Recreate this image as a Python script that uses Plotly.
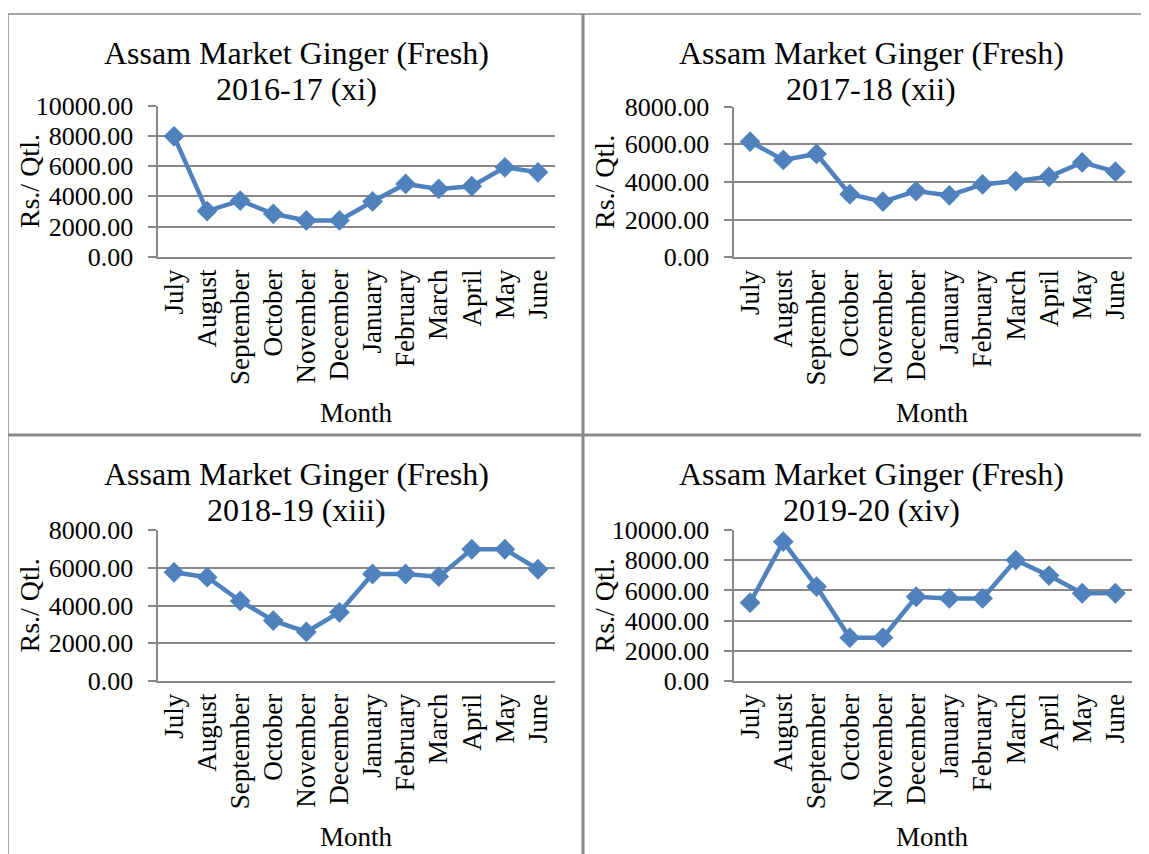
import plotly.graph_objects as go

# months of the agricultural year
months = ['July', 'August', 'September', 'October', 'November', 'December',
          'January', 'February', 'March', 'April', 'May', 'June']

# Rs./Qtl.
price_2016_17 = [7970, 3020, 3720, 2840, 2400, 2400, 3660, 4820, 4490, 4670, 5920, 5590]
price_2017_18 = [6140, 5170, 5490, 3350, 2960, 3520, 3290, 3870, 4050, 4280, 5040, 4550]
price_2018_19 = [5760, 5500, 4240, 3200, 2600, 3640, 5670, 5670, 5530, 6980, 6980, 5920]
price_2019_20 = [5190, 9230, 6250, 2870, 2870, 5580, 5470, 5470, 8010, 6980, 5810, 5810]

subtitles = ['2016-17 (xi)', '2017-18 (xii)', '2018-19 (xiii)', '2019-20 (xiv)']
series = [price_2016_17, price_2017_18, price_2018_19, price_2019_20]
y_max = [10000, 8000, 8000, 10000]

W, H = 1149, 854
OFF = 8  # the page body adds an 8px margin around the figure
FONT = 'Liberation Serif'
GRID = '#888888'
BLUE = '#4F81BD'


def fx(px):
    return (px - OFF) / W


def fy(py):
    return 1 - (py - OFF) / H


# plot boxes in window pixels: (left, right, top, bottom), panel origin (left, top)
boxes = [(157.5, 554.5, 105.7, 256.7), (733.5, 1132, 106.7, 257.3),
         (157.5, 554.5, 530, 681), (733.5, 1132, 530, 681)]
panels = [(8, 14), (583, 14), (8, 435), (583, 435)]

fig = go.Figure()
annotations = []
layout = {}

for i in range(4):
    n = '' if i == 0 else str(i + 1)
    l, r, t, b = boxes[i]
    fig.add_trace(go.Scatter(
        x=months, y=series[i], mode='lines+markers',
        xaxis='x' + n, yaxis='y' + n,
        line=dict(color=BLUE, width=4.5),
        marker=dict(symbol='diamond', size=16, color=BLUE),
        showlegend=False
    ))
    layout['xaxis' + n] = dict(
        domain=[fx(l), fx(r)], anchor='y' + n, automargin=False,
        type='category', range=[-0.5, 11.5],
        tickangle=-90, ticks='', showgrid=False,
        showline=True, linecolor=GRID, linewidth=2,
        tickfont=dict(family=FONT, size=27, color='black'),
        fixedrange=True
    )
    layout['yaxis' + n] = dict(
        domain=[fy(b), fy(t)], anchor='x' + n, automargin=False,
        range=[0, y_max[i]], dtick=2000, tickformat='.2f',
        ticks='outside', ticklen=8, tickcolor=GRID, tickwidth=2,
        ticklabelstandoff=9,
        showgrid=True, gridcolor=GRID, gridwidth=2,
        showline=True, linecolor=GRID, linewidth=2,
        zeroline=False,
        tickfont=dict(family=FONT, size=26, color='black'),
        fixedrange=True
    )
    px0, py0 = panels[i]
    cx = px0 + 288
    annotations.append(dict(
        text='Assam Market Ginger (Fresh)', x=fx(cx), y=fy(py0 + 39),
        xref='paper', yref='paper', showarrow=False,
        xanchor='center', yanchor='middle',
        font=dict(family=FONT, size=32, color='black')))
    annotations.append(dict(
        text=subtitles[i], x=fx(cx), y=fy(py0 + 75),
        xref='paper', yref='paper', showarrow=False,
        xanchor='center', yanchor='middle',
        font=dict(family=FONT, size=32, color='black')))
    annotations.append(dict(
        text='Month', x=fx((l + r) / 2), y=fy(b + 156),
        xref='paper', yref='paper', showarrow=False,
        xanchor='center', yanchor='middle',
        font=dict(family=FONT, size=27, color='black')))
    annotations.append(dict(
        text='Rs./ Qtl.', x=fx(px0 + 21), y=fy((t + b) / 2),
        xref='paper', yref='paper', showarrow=False, textangle=-90,
        xanchor='center', yanchor='middle',
        font=dict(family=FONT, size=28, color='black')))

# frame lines around the panels
frame = [
    (8, 14, W + OFF, 14, 1.5), (8, 14, 8, H + OFF, 1.5),
    (583, 14, 583, H + OFF, 3), (8, 435, W + OFF, 435, 3),
]
shapes = [dict(type='line', xref='paper', yref='paper',
               x0=fx(a), y0=fy(b), x1=fx(c), y1=fy(d),
               line=dict(color='#8a8a8a', width=w))
          for a, b, c, d, w in frame]

fig.update_layout(
    width=W, height=H,
    margin=dict(l=0, r=0, t=0, b=0, autoexpand=False),
    paper_bgcolor='white', plot_bgcolor='white',
    annotations=annotations, shapes=shapes,
    **layout
)

fig.write_html("out.html")
